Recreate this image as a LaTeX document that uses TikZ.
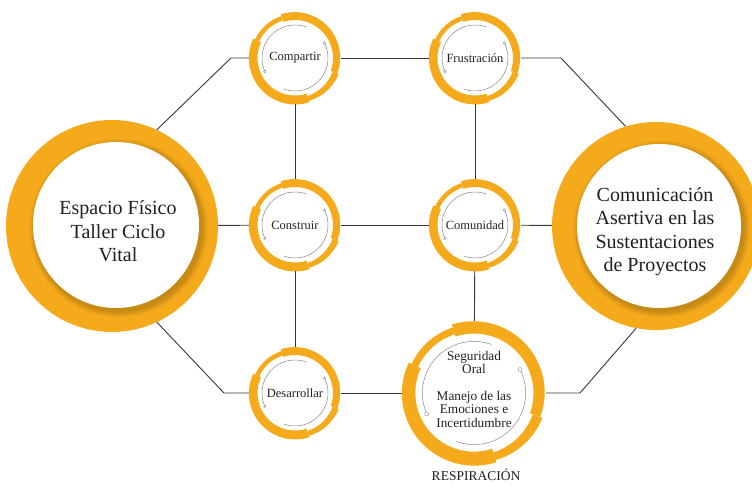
\documentclass[tikz,border=0pt]{standalone}
\usepackage{fontspec}
\setmainfont{Liberation Serif}
\definecolor{ringor}{RGB}{245,170,28}
\definecolor{txt}{RGB}{35,31,32}
\definecolor{lnc}{RGB}{55,55,55}
\definecolor{arcg}{RGB}{135,135,135}
\tikzset{
  conn/.style={draw=lnc, line width=0.9pt},
  bigtext/.style={font=\fontsize{20}{23.5}\selectfont, text=txt, align=center},
  smalltext/.style={font=\fontsize{12.5}{14}\selectfont, text=txt},
  segtext/.style={font=\fontsize{13.3}{13.4}\selectfont, text=txt, align=center},
  hub/.style={circle, minimum size=#1, inner sep=0pt},
  cyc/.pic={
    \foreach \a/\b/\os/\oe/\ir in {108/-20/46/45/38, -20/-72/46.5/45/40, -72/-205/46.5/46/37.5, 155/108/44/44/39.5}{
      \fill[ringor] plot[domain=\a:\b, samples=40, variable=\t] (\t:{\os+(\oe-\os)*((\t)-(\a))/((\b)-(\a))}) -- (\b:\ir) arc[start angle=\b, end angle=\a, radius=\ir] -- cycle;
    }
    \draw[arcg, line width=0.5pt] (204:33) arc[start angle=204, end angle=70, radius=33];
    \draw[arcg, line width=0.5pt] (27:33) arc[start angle=27, end angle=-110, radius=33];
    \draw[arcg, line width=0.4pt, fill=white] (204:33) circle (1.3);
    \draw[arcg, line width=0.4pt, fill=white] (27:33) circle (1.3);
  }
}
\begin{document}
\begin{tikzpicture}[x=1pt, y=1pt]
\useasboundingbox (0,0) rectangle (752,485);
% big circles
\fill[ringor] (112,259) circle (106);
\foreach \i in {1,...,8} \fill[black, opacity=0.025] (118.5,257) circle ({83+\i*0.8});
\fill[white] (116,260) circle (83);
\fill[ringor] (656,259) circle (104);
\foreach \i in {1,...,8} \fill[black, opacity=0.025] (661.5,256) circle ({82+\i*0.8});
\fill[white] (659,259) circle (82);
% small rings
\pic at (295,427) {cyc};
\pic at (475,427) {cyc};
\pic at (295,260) {cyc};
\pic at (475,260) {cyc};
\pic at (295,92) {cyc};
\pic[scale=1.565] at (474,92) {cyc};
% nodes
\node[hub=212pt] (L) at (112,259) {};
\node[hub=208pt] (R) at (656,259) {};
\node[bigtext] (Ltx) at (118,253.5) {Espacio Físico\\Taller Ciclo\\Vital};
\node[bigtext] (Rtx) at (655,253.5) {Comunicación\\Asertiva en las\\Sustentaciones\\de Proyectos};
\node[hub=92pt, smalltext] (Comp) at (295,427) {Compartir};
\node[hub=92pt, smalltext] (Frus) at (475,427) {Frustración};
\node[hub=92pt, smalltext] (Cons) at (295,260) {Construir};
\node[hub=92pt, smalltext] (Comu) at (475,260) {Comunidad};
\node[hub=92pt, smalltext] (Desa) at (295,92) {Desarrollar};
\node[hub=144pt] (Seg) at (474,92) {};
\node[segtext] (Segtx) at (474,96) {Seguridad\\Oral\\[13.4pt]Manejo de las\\Emociones e\\Incertidumbre};
\node[font=\fontsize{13.5}{15}\selectfont, text=txt] (Resp) at (476,10) {RESPIRACIÓN};
% connectors
\coordinate (tl) at (231,427);
\coordinate (tr) at (561,427);
\coordinate (bl) at (224,92);
\coordinate (br) at (580,92);
\draw[conn] (L.65) -- (tl) -- (Comp.west);
\draw[conn] (Comp) -- (Frus);
\draw[conn] (Frus.east) -- (tr) -- (R.107);
\draw[conn] (L) -- (Cons);
\draw[conn] (Cons) -- (Comu);
\draw[conn] (Comu) -- (R);
\draw[conn] (L.-65) -- (bl) -- (Desa.west);
\draw[conn] (Desa) -- (Seg);
\draw[conn] (Seg.east) -- (br) -- (R.-101);
\draw[conn] (Comp) -- (Cons);
\draw[conn] (Cons) -- (Desa);
\draw[conn] (Frus) -- (Comu);
\draw[conn] (Comu) -- (Seg);
\end{tikzpicture}
\end{document}
